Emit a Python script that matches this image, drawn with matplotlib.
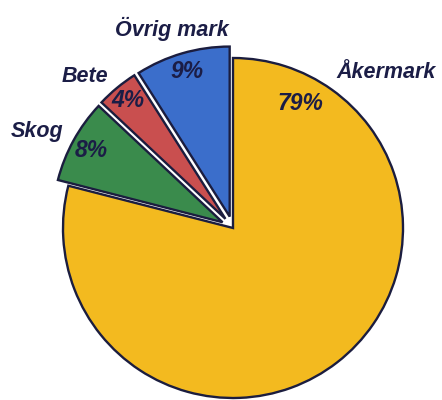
import matplotlib
matplotlib.use("Agg")
import matplotlib.pyplot as plt
import numpy as np

categories = ["Åkermark", "Skog", "Bete", "Övrig mark"]
values = [79, 8, 4, 9]
pct_labels = ["79%", "8%", "4%", "9%"]

colors = ["#F3BA1F", "#3A8B4C", "#C94F4F", "#3B6ECB"]
explode = [0, 0.07, 0.07, 0.07]
pct_r = [0.83, 0.88, 0.90, 0.89]
pct_angle = [61.6, None, None, None]  # None -> wedge bisector
name_xy = [(0.90, 0.912), (-1.153, 0.565), (-0.871, 0.894), (-0.359, 1.171)]

fig = plt.figure(figsize=(4.42, 4.00), dpi=100)
ax = fig.add_axes([0, 0, 1, 1])

wedges, _ = ax.pie(values, colors=colors, startangle=90, counterclock=False,
                   explode=explode, radius=1.0,
                   wedgeprops=dict(edgecolor="#1b1d3f", linewidth=1.7))

scale = 170.0
cx, cy = 233.0, 172.0
ax.set_xlim(-cx / scale, (442 - cx) / scale)
ax.set_ylim(-cy / scale, (400 - cy) / scale)
ax.set_aspect("equal")
ax.axis("off")

font = dict(family=["Liberation Sans Narrow", "Liberation Sans", "DejaVu Sans"],
            weight="bold", style="italic", color="#1b1d46")

for i, w in enumerate(wedges):
    a = pct_angle[i] if pct_angle[i] is not None else (w.theta1 + w.theta2) / 2
    ang = np.deg2rad(a)
    c = w.center
    px = c[0] + pct_r[i] * np.cos(ang)
    py = c[1] + pct_r[i] * np.sin(ang)
    ax.text(px, py, pct_labels[i], ha="center", va="center", fontsize=16.5, **font)

for i, w in enumerate(wedges):
    x, y = name_xy[i]
    ax.text(x, y, categories[i], ha="center", va="center", fontsize=15.5, **font)

fig.savefig("out.png", dpi=100, facecolor="white")
